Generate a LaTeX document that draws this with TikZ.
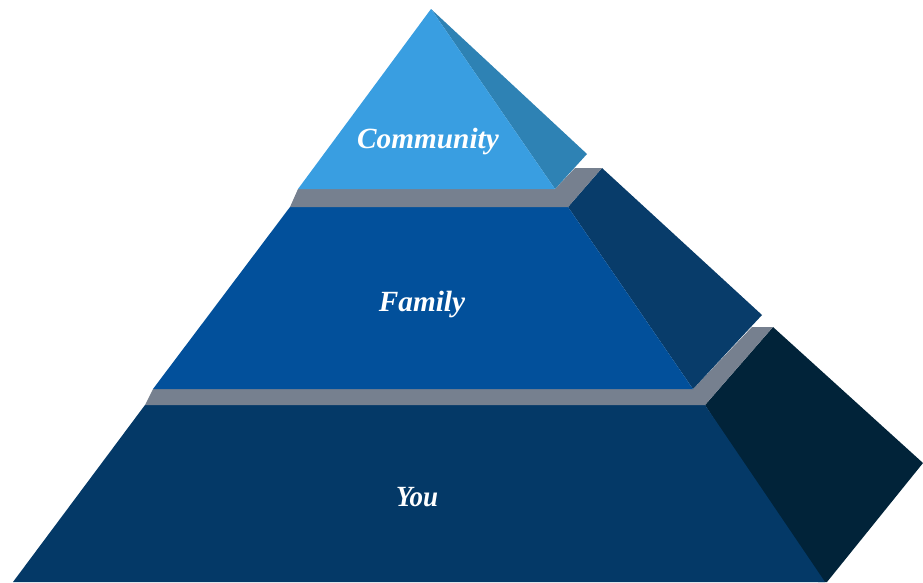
\documentclass[tikz,border=0pt]{standalone}
\usepackage{fontspec}
\setmainfont{Liberation Serif}
\usepackage{tikz}
\definecolor{skyblue}{RGB}{57,158,225}
\definecolor{skyside}{RGB}{46,130,180}
\definecolor{midblue}{RGB}{2,80,155}
\definecolor{midside}{RGB}{8,60,106}
\definecolor{navyblue}{RGB}{4,57,103}
\definecolor{navyside}{RGB}{1,35,57}
\definecolor{ledgegray}{RGB}{118,128,143}

\begin{document}
\begin{tikzpicture}[x=0.03cm,y=-0.03cm,
    face/.style={fill=#1,draw=none},
    tierlabel/.style={text=white,font=\fontsize{25}{30}\selectfont\bfseries\itshape}]
        \useasboundingbox (0,0) rectangle (923,582);
        % bottom block
        \fill[face=navyside] (705,405) -- (773,327) -- (923,463) -- (827,582) -- (818,582) -- cycle;
        \fill[face=navyblue] (145,405) -- (705,405) -- (825,582) -- (13,582) -- cycle;
        \fill[face=ledgegray] (153,389) -- (145,405) -- (705,405) -- (773,327)
              -- (752,327) -- (693,389) -- cycle;
        % middle block
        \fill[face=midside] (568,207) -- (602,168) -- (762,315) -- (693,389) -- cycle;
        \fill[face=midblue] (290,207) -- (568,207) -- (693,389) -- (153,389) -- cycle;
        \fill[face=ledgegray] (298,189) -- (290,207) -- (568,207) -- (602,168)
              -- (575,168) -- (555,189) -- cycle;
        % top block
        \fill[face=skyside] (431,9) -- (587,154) -- (555,189) -- cycle;
        \fill[face=skyblue] (431,9) -- (555,189) -- (298,189) -- cycle;
        \node[tierlabel] (community) at (428,141) {Community};
        \node[tierlabel] (family) at (422,304) {Family};
        \node[tierlabel] (you) at (417,497) {\scalebox{0.92}[1]{You}};
      \end{tikzpicture}
\end{document}
